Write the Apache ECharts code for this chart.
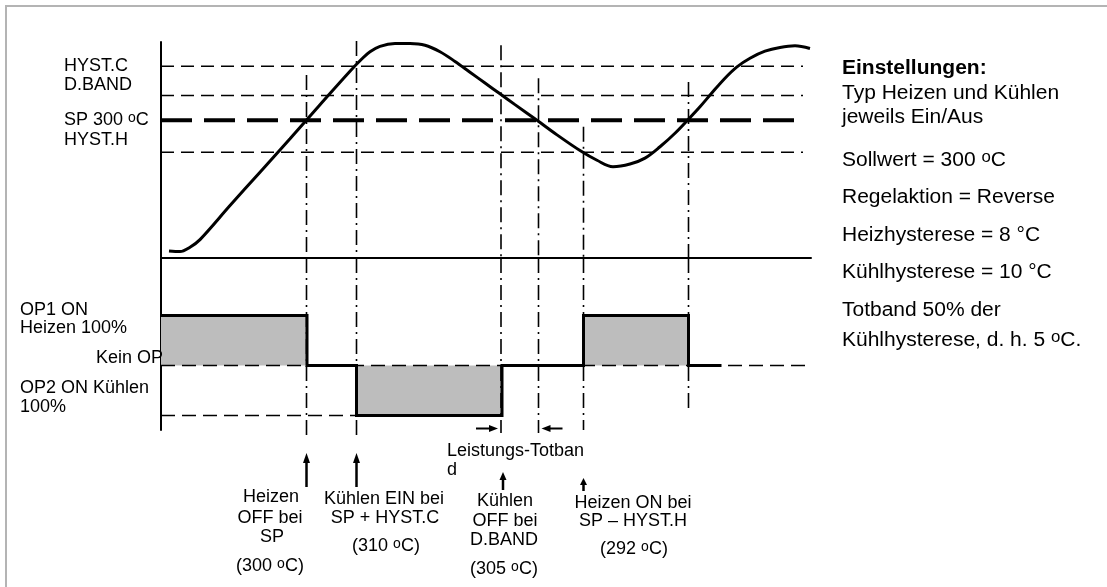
<!DOCTYPE html>
<html>
<head>
<meta charset="utf-8">
<script src="https://cdn.jsdelivr.net/npm/echarts@6/dist/echarts.min.js"></script>
<style>
  html, body { margin: 0; padding: 0; background: #fff; }
  #chart { width: 1107px; height: 587px; }
</style>
</head>
<body>
<div id="chart"></div>
<script>
// Process temperature over time (time in s, temperature in °C, schematic)
const timeAxis = [1.6, 3.8, 5.8, 7.8, 13.8, 19.8, 25.8, 31.8, 37.8, 40.2, 41.8, 43.8, 46.8, 49.8, 52.8,
  55.8, 58.8, 61.8, 64.8, 67.8, 70.8, 75.2, 79.2, 83.8, 87.2, 90.4, 93.8, 96.8, 99.8, 102.8, 105.4,
  107.8, 110.2, 112.8, 115.2, 117.8, 120.8, 123.8, 126.8, 129.8];
const temperature = [275.8, 275.7, 276.5, 277.9, 284.2, 290.4, 296.6, 302.9, 309.1, 311.4, 312.7, 313.7,
  314.2, 314.2, 313.9, 312.7, 310.9, 308.9, 306.9, 304.9, 302.9, 300.0, 297.3, 294.4, 292.6, 291.4,
  291.9, 293.0, 295.1, 297.6, 300.1, 302.5, 305.1, 307.8, 309.9, 311.5, 312.8, 313.5, 313.8, 313.3];

// Switching thresholds (schematic positions on the temperature axis)
const levelNames = ['HYST.C', 'D.BAND', 'SP', 'HYST.H'];
const levelValues = [310, 304.6, 300, 294.1];

// Switching instants: time, where each marker starts (°C) and where it ends (output scale)
const eventTimes = [29.1, 39.1, 68.0, 75.5, 84.5, 105.5];
const eventTopTemp = [308.4, 314.7, 313.9, 307.8, 298.8, 307.1];
const eventBottomOut = [-1.43, -1.43, -1.35, -1.35, -1.29, -0.95];

// Output state: +1 = OP1 heating 100 %, 0 = no output, -1 = OP2 cooling 100 %
const outputTime = [0, 29.2, 29.2, 39.1, 39.1, 68.2, 68.2, 84.5, 84.5, 105.5, 105.5, 112.1];
const outputState = [1, 1, 0, 0, -1, -1, 0, 0, 1, 1, 0, 0];

const FONT = "'Liberation Sans', Arial, Helvetica, sans-serif";
const zip = (a, b) => a.map((v, i) => [v, b[i]]);

const series = [];

// threshold lines
levelNames.forEach((name, i) => {
  const isSP = name === 'SP';
  series.push({
    type: 'line', xAxisIndex: 0, yAxisIndex: 0, silent: true, symbol: 'none', clip: false, z: 3,
    data: [[0, levelValues[i]], [128.4, levelValues[i]]],
    lineStyle: { color: '#000', width: isSP ? 4 : 1.5, type: isSP ? [31, 12] : [13, 7] }
  });
});

// switching markers (dash-dot) in both panels
eventTimes.forEach((t, i) => {
  series.push({
    type: 'line', xAxisIndex: 0, yAxisIndex: 0, silent: true, symbol: 'none', clip: false, z: 2,
    data: [[t, eventTopTemp[i]], [t, 274.5]],
    lineStyle: { color: '#000', width: 1.6, type: [15, 5, 2, 5] }
  });
  series.push({
    type: 'line', xAxisIndex: 1, yAxisIndex: 1, silent: true, symbol: 'none', clip: false, z: 2,
    data: [[t, 2.15], [t, eventBottomOut[i]]],
    lineStyle: { color: '#000', width: 1.6, type: [15, 5, 2, 5] }
  });
});

// temperature trace
series.push({
  type: 'line', xAxisIndex: 0, yAxisIndex: 0, silent: true, symbol: 'none', clip: false, z: 5,
  smooth: 0.35, data: zip(timeAxis, temperature),
  lineStyle: { color: '#000', width: 3 }
});

// output state with shaded on-periods
series.push({
  type: 'line', xAxisIndex: 1, yAxisIndex: 1, silent: true, symbol: 'none', clip: false, z: 2,
  data: zip(outputTime, outputState),
  lineStyle: { color: '#000', width: 3, join: 'miter' },
  areaStyle: { color: '#bdbdbd', opacity: 1, origin: 'auto' }
});

// "Kein OP" and "OP2" reference lines
series.push({
  type: 'line', xAxisIndex: 1, yAxisIndex: 1, silent: true, symbol: 'none', clip: false, z: 4,
  data: [[0, 0], [130, 0]],
  lineStyle: { color: '#000', width: 1.5, type: [14, 7] }
});
series.push({
  type: 'line', xAxisIndex: 1, yAxisIndex: 1, silent: true, symbol: 'none', clip: false, z: 4,
  data: [[0, -1], [68.4, -1]],
  lineStyle: { color: '#000', width: 1.5, type: [14, 7] }
});

const hiddenX = (gi, showLine) => ({
  gridIndex: gi, type: 'value', min: 0, max: 130,
  axisLine: { show: showLine, onZero: false, lineStyle: { color: '#000', width: 2 } },
  axisTick: { show: false }, axisLabel: { show: false }, splitLine: { show: false }
});
const leftY = (gi, min, max) => ({
  gridIndex: gi, type: 'value', min, max,
  axisLine: { show: true, onZero: false, lineStyle: { color: '#000', width: 2 } },
  axisTick: { show: false }, axisLabel: { show: false }, splitLine: { show: false }
});

const option = {
  animation: false,
  backgroundColor: '#fff',
  grid: [
    { left: 161, top: 42, width: 650, height: 216 },
    { left: 161, top: 258, width: 650, height: 172 }
  ],
  xAxis: [hiddenX(0, true), hiddenX(1, false)],
  yAxis: [leftY(0, 274.5, 314.5), leftY(1, -1.29, 2.15)],
  series
};

const chart = echarts.init(document.getElementById('chart'));
chart.setOption(option);

// ---- annotations ----
const xAt = t => chart.convertToPixel({ gridIndex: 1 }, [t, 0])[0];
// raised small "o" used for the degree mark
const rich = size => {
  const s = Math.round(size * 0.78);
  return { s: { fontSize: s, fontFamily: FONT, verticalAlign: 'top', lineHeight: Math.round(size * 0.2), fill: '#000' } };
};
const label = (text, x, y, opts = {}) => {
  const size = opts.size || 18;
  return {
    type: 'text', z: 20, silent: true, x, y, scaleX: opts.sx || 1,
    style: {
      text, x: 0, y: 0, fill: '#000',
      font: (opts.bold ? 'bold ' : '') + size + 'px ' + FONT,
      align: opts.align || 'left', verticalAlign: 'middle',
      rich: rich(size)
    }
  };
};

const els = [];
// frame
els.push({ type: 'rect', z: 0, silent: true, shape: { x: 6, y: 6, width: 1200, height: 700 },
  style: { fill: 'none', stroke: '#b4b4b4', lineWidth: 2 } });

// threshold and output labels
els.push(label('HYST.C', 64, 66));
els.push(label('D.BAND', 64, 85));
els.push(label('SP 300 {s|o}C', 64, 120));
els.push(label('HYST.H', 64, 140));
els.push(label('OP1 ON', 20, 310));
els.push(label('Heizen 100%', 20, 328));
els.push(label('Kein OP', 163, 358, { align: 'right' }));
els.push(label('OP2 ON Kühlen', 20, 388));
els.push(label('100%', 20, 407));

// settings panel
const panel = [
  ['Einstellungen:', 68, true],
  ['Typ Heizen und Kühlen', 93],
  ['jeweils Ein/Aus', 117],
  ['Sollwert = 300 {s|o}C', 160],
  ['Regelaktion = Reverse', 197],
  ['Heizhysterese = 8 °C', 235],
  ['Kühlhysterese = 10 °C', 272],
  ['Totband 50% der', 310],
  ['Kühlhysterese, d. h. 5 {s|o}C.', 340]
];
panel.forEach(([t, y, b]) => els.push(label(t, 842, y, { size: 20, bold: !!b, sx: 1.05 })));

// event descriptions
const notes = [
  ['Heizen', 271, 497], ['OFF bei', 270, 518], ['SP', 272, 537], ['(300 {s|o}C)', 270, 566],
  ['Kühlen EIN bei', 384, 499], ['SP + HYST.C', 385, 518], ['(310 {s|o}C)', 386, 546],
  ['Kühlen', 505, 501], ['OFF bei', 505, 521], ['D.BAND', 504, 540], ['(305 {s|o}C)', 504, 569],
  ['Heizen ON bei', 633, 503], ['SP \u2013 HYST.H', 633, 521], ['(292 {s|o}C)', 634, 549]
];
notes.forEach(([t, x, y]) => els.push(label(t, x, y, { align: 'center' })));
els.push(label('Leistungs-Totban', 447, 451));
els.push(label('d', 447, 470));

// arrows pointing at the switching instants
const upArrow = (x, tip, tail, head) => {
  els.push({ type: 'line', z: 20, silent: true, shape: { x1: x, y1: tip + head - 3, x2: x, y2: tail },
    style: { stroke: '#000', lineWidth: 2.5 } });
  els.push({ type: 'polygon', z: 20, silent: true,
    shape: { points: [[x, tip], [x - 3.5, tip + head], [x + 3.5, tip + head]] }, style: { fill: '#000' } });
};
const sideArrow = (tipX, tailX, y) => {
  const d = tipX > tailX ? 1 : -1;
  els.push({ type: 'line', z: 20, silent: true, shape: { x1: tailX, y1: y, x2: tipX - d * 5, y2: y },
    style: { stroke: '#000', lineWidth: 2 } });
  els.push({ type: 'polygon', z: 20, silent: true,
    shape: { points: [[tipX, y], [tipX - d * 9, y - 3.5], [tipX - d * 9, y + 3.5]] }, style: { fill: '#000' } });
};
upArrow(xAt(eventTimes[0]), 453, 487, 10);
upArrow(xAt(eventTimes[1]), 453, 487, 10);
upArrow(xAt(eventTimes[2]) + 2, 472, 490, 8);
upArrow(xAt(eventTimes[4]), 478, 491, 7);
sideArrow(xAt(eventTimes[2]) - 3, xAt(eventTimes[2]) - 25, 428.5);
sideArrow(xAt(eventTimes[3]) + 3, xAt(eventTimes[3]) + 24, 428.5);

chart.setOption({ graphic: { elements: els } });
</script>
</body>
</html>
